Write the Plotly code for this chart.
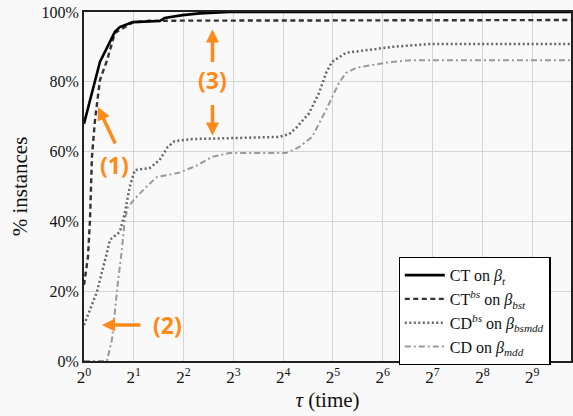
import math
import plotly.graph_objects as go

# Performance profiles: fraction of instances solved within a factor tau of the best time
ct_tau = [1.0, 1.087, 1.248, 1.537, 1.647, 1.972, 2.868, 3.073, 3.945, 4.993, 7.568, 900]
ct_pct = [68, 74.8, 85.7, 94.3, 95.7, 97.1, 97.4, 98.3, 99.1, 99.6, 100, 100]

ctbs_tau = [1.0, 1.057, 1.087, 1.102, 1.117, 1.165, 1.248, 1.375, 1.537, 1.972, 2.5, 900]
ctbs_pct = [21.8, 29.8, 40.4, 48, 58.5, 69, 80.5, 86, 94, 97, 97.5, 97.7]

cdbs_tau = [1.0, 1.197, 1.375, 1.434, 1.647, 1.717, 1.765, 1.892, 2.028, 2.497, 2.868,
            3.204, 3.531, 4.532, 15.14, 17.39, 19.16, 22.94, 26.35, 29.04, 31.56, 38.31,
            50.56, 72.51, 121.1, 900]
cdbs_pct = [10.3, 19.8, 31, 34.7, 37, 40.4, 42.4, 50, 54.7, 55.3, 57.6,
            61.3, 63, 63.6, 64.2, 65, 66.8, 71, 76.8, 82.5, 85.7, 88.3,
            89.1, 90, 90.8, 90.8]

cd_tau = [1.0, 1.375, 1.474, 1.537, 1.602, 1.693, 1.765, 1.84, 2.028, 2.395, 2.751,
          3.204, 3.784, 4.79, 5.979, 7.568, 16.68, 19.97, 23.92, 29.04, 31.56, 34.78,
          38.31, 44.02, 54.95, 72.51, 95.67, 900]
cd_pct = [0, 0, 6, 14.6, 22.3, 31.8, 40.4, 44, 46.5, 50, 52.7,
          53.3, 54, 56, 58.5, 59.6, 59.6, 61.3, 64.2, 71.9, 75.6, 79.7,
          82.5, 84, 84.8, 85.7, 86.2, 86.2]

x_tick_vals = [1, 2, 4, 8, 16, 32, 64, 128, 256, 512]
x_tick_text = [f"2<sup>{k}</sup>" for k in range(10)]
y_tick_vals = [0, 20, 40, 60, 80, 100]
y_tick_text = ["0%", "20%", "40%", "60%", "80%", "100%"]

SERIF = "Liberation Serif, DejaVu Serif, serif"
ORANGE = "#ff8a1a"
BG = "#f9f9f9"

fig = go.Figure()
fig.add_trace(go.Scatter(x=cd_tau, y=cd_pct, mode="lines",
                         line=dict(color="#9a9a9a", width=2, dash="6px,3px,2px,3px"),
                         name="CD on <i>β<sub>mdd</sub></i>"))
fig.add_trace(go.Scatter(x=cdbs_tau, y=cdbs_pct, mode="lines",
                         line=dict(color="#666666", width=2.5, dash="2px,2.5px"),
                         name="CD<sup><i>bs</i></sup> on <i>β<sub>bsmdd</sub></i>"))
fig.add_trace(go.Scatter(x=ctbs_tau, y=ctbs_pct, mode="lines",
                         line=dict(color="#333333", width=2.4, dash="5px,3.5px"),
                         name="CT<sup><i>bs</i></sup> on <i>β<sub>bst</sub></i>"))
fig.add_trace(go.Scatter(x=ct_tau, y=ct_pct, mode="lines",
                         line=dict(color="#000000", width=2.6),
                         name="CT on <i>β<sub>t</sub></i>"))

L2 = math.log10


def arrow(tau, pct, ax, ay):
    fig.add_annotation(x=L2(tau), y=pct, xref="x", yref="y", ax=ax, ay=ay,
                       text="", showarrow=True, arrowhead=2, arrowsize=0.75,
                       arrowwidth=3.5, arrowcolor=ORANGE)


def label(tau, pct, txt):
    fig.add_annotation(x=L2(tau), y=pct, xref="x", yref="y", text=f"<b>{txt}</b>",
                       showarrow=False, font=dict(family="Open Sans", size=23, color=ORANGE))


arrow(1.214, 72.8, 18, 38)
label(1.537, 56.2, "(1)")
arrow(1.283, 10.3, 40, 0)
label(3.204, 10.3, "(2)")
label(5.979, 80.5, "(3)")
arrow(5.979, 95.0, 0, 34)
arrow(5.979, 64.6, 0, -32)

fig.update_layout(
    width=573, height=416,
    margin=dict(l=84, r=0, t=12, b=55),
    paper_bgcolor=BG, plot_bgcolor=BG,
    font=dict(family=SERIF, size=16, color="#111111"),
    showlegend=True,
    legend=dict(x=0.646, y=0.298, xanchor="left", yanchor="top",
                bgcolor="#ffffff", bordercolor="#000000", borderwidth=1.2,
                traceorder="reversed", font=dict(family=SERIF, size=16),
                itemwidth=40, tracegroupgap=0),
)
fig.update_xaxes(type="log", range=[0, 9.78 * math.log10(2)],
                 tickvals=x_tick_vals, ticktext=x_tick_text,
                 tickfont=dict(family=SERIF, size=17),
                 showgrid=True, gridcolor="#d4d4d4", gridwidth=1.3,
                 showline=True, linecolor="#222222", linewidth=2, mirror=True,
                 ticks="", zeroline=False,
                 title=dict(text="<i>τ</i> (time)", font=dict(family=SERIF, size=21),
                            standoff=6))
fig.update_yaxes(range=[0, 100], tickvals=y_tick_vals, ticktext=y_tick_text,
                 tickfont=dict(family=SERIF, size=16),
                 showgrid=True, gridcolor="#d4d4d4", gridwidth=1.3,
                 showline=True, linecolor="#222222", linewidth=2, mirror=True,
                 ticks="", zeroline=False,
                 title=dict(text="% instances", font=dict(family=SERIF, size=21),
                            standoff=8))

fig.write_html("out.html")
